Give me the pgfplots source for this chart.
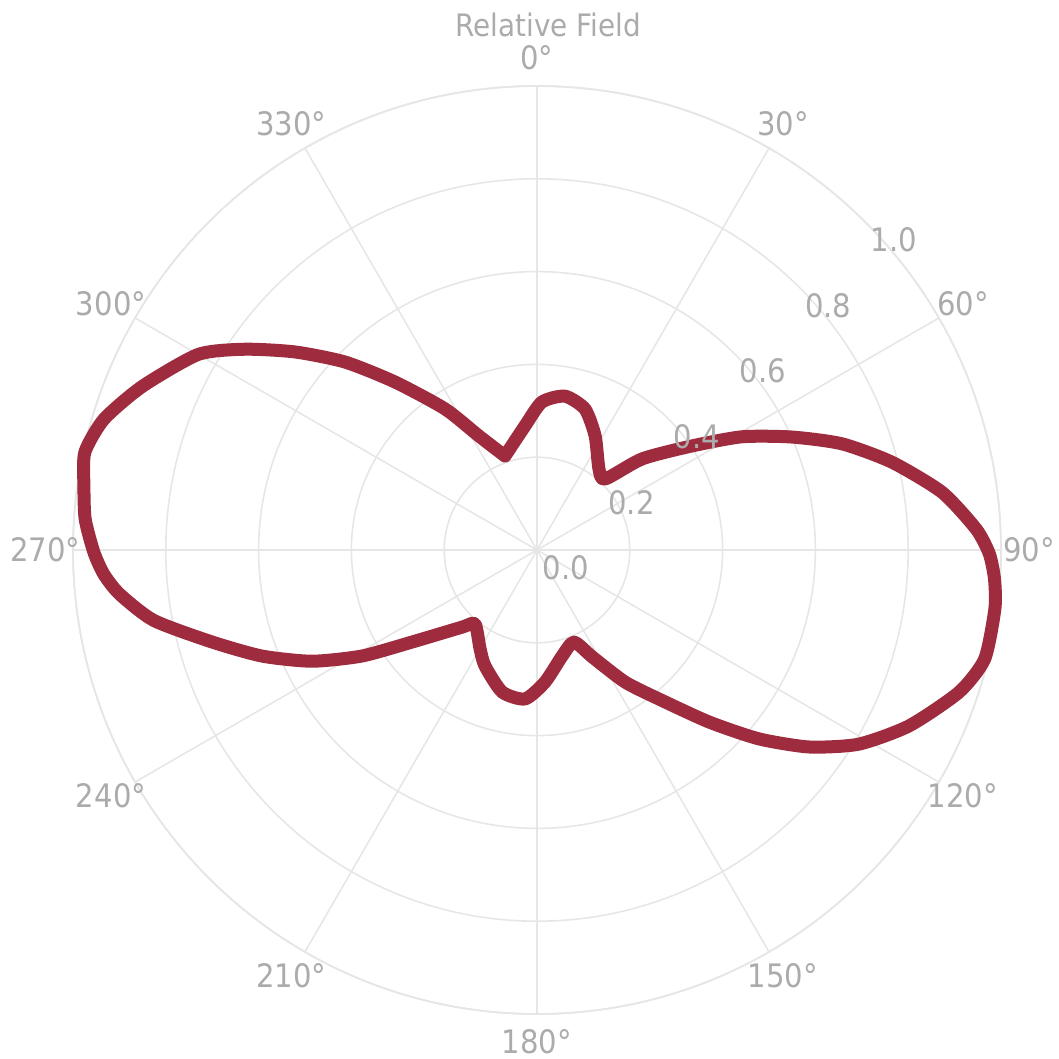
\documentclass[border=0pt]{standalone}
\usepackage{fontspec}
\setmainfont{DejaVu Sans}[FakeStretch=0.9]
\usepackage{pgfplots}
\usepackage{pgfplotstable}
\pgfplotsset{compat=1.18}
\usepgfplotslibrary{polar}

\definecolor{lobe}{HTML}{9E2C3E}
\definecolor{gridc}{HTML}{E6E6E6}
\definecolor{labc}{HTML}{ABABAB}

\tikzset{
    ang/.style={text=labc, font=\fontsize{9.2}{10}\selectfont, anchor=center},
    rad/.style={text=labc, font=\fontsize{9.2}{10}\selectfont, anchor=north west, inner sep=0.5mm},
}

% compass bearing (clockwise from north) and relative field
% starts and ends at the notch near 341 deg so the join sits on a corner
\pgfplotstableread{
theta r
-18.8 0.214
-5.5 0.269
1.9 0.319
10.3 0.337
18.8 0.321
27.0 0.276
37.4 0.220
43.8 0.212
49.1 0.300
56.1 0.402
61.1 0.505
66.1 0.601
70.8 0.696
76.1 0.788
81.9 0.882
87.3 0.948
90.5 0.975
93.6 0.988
97.3 0.995
103.7 0.993
108.6 0.960
115.3 0.887
121.1 0.810
125.9 0.724
130.4 0.628
135.0 0.524
140.7 0.415
146.3 0.342
152.6 0.260
158.1 0.214
166.7 0.235
176.5 0.285
184.6 0.322
193.8 0.315
204.1 0.274
209.9 0.246
220.0 0.208
224.2 0.232
233.6 0.334
238.8 0.441
243.7 0.541
248.9 0.635
254.2 0.728
259.6 0.840
264.0 0.905
266.8 0.935
269.7 0.955
273.9 0.976
278.0 0.986
282.2 0.997
286.8 0.975
292.5 0.921
300.0 0.843
304.5 0.764
309.3 0.674
314.4 0.579
319.8 0.474
326.9 0.363
333.0 0.276
341.2 0.214
}\fielddata

\begin{document}
\begin{tikzpicture}
\useasboundingbox (-53.7mm,-50.9mm) rectangle (52.1mm,55.0mm);
\begin{polaraxis}[
    at={(0,0)}, anchor=origin,
    width=92.8mm, height=92.8mm, scale only axis,
    ymin=0, ymax=1,
    xtick={0,30,...,330}, xticklabels={},
    ytick={0.2,0.4,0.6,0.8,1.0}, yticklabels={},
    grid=major,
    major grid style={draw=gridc, line width=0.45pt},
    axis line style={draw=gridc, line width=0.5pt},
    major tick length=0pt,
    clip=false,
]
\addplot[lobe, line width=3.7pt, line join=round, line cap=round, smooth, tension=0.4] table[x expr={90-\thisrow{theta}}, y=r] {\fielddata};

\node[ang] at (axis cs:90,1.06) {0°};
\node[ang] at (axis cs:60,1.06) {30°};
\node[ang] at (axis cs:30,1.06) {60°};
\node[ang] at (axis cs:0,1.06) {90°};
\node[ang] at (axis cs:-30,1.06) {120°};
\node[ang] at (axis cs:-60,1.06) {150°};
\node[ang] at (axis cs:-90,1.06) {180°};
\node[ang] at (axis cs:-120,1.06) {210°};
\node[ang] at (axis cs:-150,1.06) {240°};
\node[ang] at (axis cs:-180,1.06) {270°};
\node[ang] at (axis cs:-210,1.06) {300°};
\node[ang] at (axis cs:-240,1.06) {330°};

\node[rad] at (axis cs:45,0) {0.0};
\node[rad] at (axis cs:45,0.2) {0.2};
\node[rad] at (axis cs:45,0.4) {0.4};
\node[rad] at (axis cs:45,0.6) {0.6};
\node[rad] at (axis cs:45,0.8) {0.8};
\node[rad] at (axis cs:45,1.0) {1.0};
\end{polaraxis}
\node[text=labc, font=\fontsize{8.8}{10}\selectfont] at (1.1mm,52.5mm) {Relative Field};
\end{tikzpicture}
\end{document}
